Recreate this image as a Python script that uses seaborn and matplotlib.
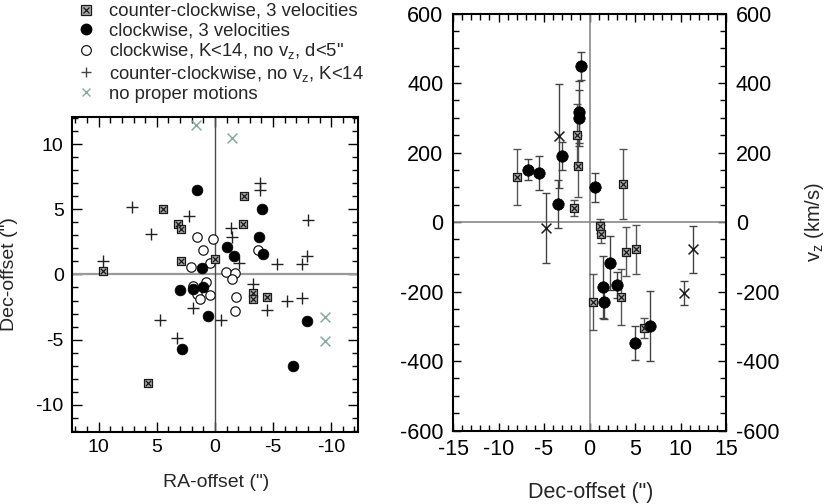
import numpy as np
import pandas as pd
import matplotlib
matplotlib.use("Agg")
import matplotlib.pyplot as plt
import seaborn as sns
from matplotlib.ticker import MultipleLocator
from matplotlib.lines import Line2D
from matplotlib.legend_handler import HandlerTuple

# ---------------- data: left panel (RA-offset, Dec-offset) ----------------
ccw3_ra = [9.6, 4.5, 3.2, 2.9, 2.9, 0.0, -2.5, -2.4, -3.3, -3.3, -4.5, 5.8]
ccw3_dec = [0.25, 5.0, 3.9, 3.5, 1.0, 1.2, 6.0, 3.85, -1.45, -1.85, -1.7, -8.3]

cw3_ra = [1.55, -4.05, -3.8, -4.1, -1.0, -1.6, 1.1, 3.0, 1.9, 1.0, 0.6, 2.85, -7.9, -6.7]
cw3_dec = [6.5, 5.0, 2.85, 1.6, 2.1, 1.4, 0.5, -1.2, -1.15, -1.0, -3.2, -5.7, -3.6, -7.0]

cwk_ra = [1.55, 0.2, 1.0, -3.7, 2.05, 0.4, -0.95, -1.7, -1.45, 1.9, 0.8, 1.55, 1.3, 0.45, -1.8, -1.7]
cwk_dec = [2.9, 2.75, 1.85, 1.85, 0.55, 0.9, 0.2, 0.15, -0.35, -0.85, -0.6, -1.5, -1.85, -1.6, -1.7, -2.8]

ccwk_ra = [9.6, 7.1, 2.2, 5.5, -1.35, -1.5, -3.9, -3.9, -8.0, -2.05, -5.35, -7.5, -7.9,
           -3.3, 1.9, -4.5, -6.2, -7.5, 4.7, -0.5, 3.3]
ccwk_dec = [1.0, 5.2, 4.5, 3.1, 3.6, 2.85, 7.0, 6.5, 4.2, 0.85, 0.8, 0.8, 1.4,
            -0.7, -2.6, -2.7, -2.0, -1.8, -3.5, -3.5, -4.9]

nopm_ra = [1.63, -1.46, -9.5, -9.5]
nopm_dec = [11.5, 10.5, -3.3, -5.1]

# ---------------- data: right panel (Dec-offset, v_z, error) ----------------
sq_dec = [-8.0, -1.65, -1.3, -1.4, 3.7, 1.1, 1.3, 4.0, 5.1, 0.35, 3.5, 5.95]
sq_vz = [129, 40, 161, 250, 109, -11, -35, -85, -79, -230, -216, -305]
sq_err = [80, 23, 90, 90, 100, 20, 25, 70, 70, 80, 80, 30]

cw_dec = [-6.8, -5.5, -3.5, -3.0, -1.1, -1.1, -0.9, 0.55, 2.2, 1.5, 1.6, 3.0, 5.05, 6.6]
cw_vz = [150, 141, 52, 190, 316, 300, 449, 100, -119, -187, -230, -181, -348, -299]
cw_err = [30, 50, 70, 40, 90, 80, 40, 42, 78, 90, 50, 38, 50, 100]

xm_dec = [-4.8, -3.3, 11.4, 10.4]
xm_vz = [-17, 248, -79, -205]
xm_err = [100, 150, 68, 35]

labels = ["counter-clockwise, 3 velocities",
          "clockwise, 3 velocities",
          "clockwise, K<14, no v$_z$, d<5\"",
          "counter-clockwise, no v$_z$, K<14",
          "no proper motions"]

# ---------------- style ----------------
sns.set_style("ticks")
plt.rcParams["font.family"] = ["Liberation Sans", "DejaVu Sans"]
plt.rcParams["mathtext.fontset"] = "custom"
plt.rcParams["mathtext.rm"] = "Liberation Sans"
plt.rcParams["mathtext.it"] = "Liberation Sans"
plt.rcParams["axes.unicode_minus"] = False

SQ_FACE = "#a9a9a9"
DARK = "#1a1a1a"
GREEN = "#86aaa4"

fig = plt.figure(figsize=(8.3, 5.04), dpi=100)
ax1 = fig.add_axes([0.0867, 0.1429, 0.3446, 0.625])
ax2 = fig.add_axes([0.5458, 0.1458, 0.3289, 0.8274])


def square_x(ax, x, y, s_sq=36, s_x=16):
    sns.scatterplot(x=x, y=y, marker="s", s=s_sq, color=SQ_FACE, edgecolor=DARK,
                    linewidth=0.9, ax=ax, zorder=4)
    sns.scatterplot(x=x, y=y, marker="x", s=s_x, color=DARK, linewidth=0.9,
                    ax=ax, zorder=5)


# ---------------- left panel ----------------
ax1.axhline(0, color="#9a9a9a", lw=1.6, zorder=1)
ax1.axvline(0, color="#4a4a4a", lw=1.0, zorder=1)

sns.scatterplot(x=cwk_ra, y=cwk_dec, marker="o", s=46, facecolor="white",
                edgecolor=DARK, linewidth=0.9, ax=ax1, zorder=3)
sns.scatterplot(x=ccwk_ra, y=ccwk_dec, marker="+", s=70, color="#222222",
                linewidth=1.0, ax=ax1, zorder=3)
sns.scatterplot(x=nopm_ra, y=nopm_dec, marker="x", s=50, color=GREEN,
                linewidth=1.1, ax=ax1, zorder=3)
square_x(ax1, ccw3_ra, ccw3_dec)
sns.scatterplot(x=cw3_ra, y=cw3_dec, marker="o", s=60, color="black",
                edgecolor="black", linewidth=0.5, ax=ax1, zorder=4)

ax1.set_xlim(12.3, -12.3)
ax1.set_ylim(-12.1, 12.1)
ax1.xaxis.set_major_locator(MultipleLocator(5))
ax1.xaxis.set_minor_locator(MultipleLocator(1))
ax1.yaxis.set_major_locator(MultipleLocator(5))
ax1.yaxis.set_minor_locator(MultipleLocator(1))
ax1.tick_params(which="both", direction="in", top=True, right=True, width=1.0,
                colors="black", labelsize=14)
ax1.tick_params(which="major", length=7, pad=5)
ax1.tick_params(which="minor", length=4)
ax1.tick_params(axis="y", pad=6)
ax1.set_xlabel("RA-offset (\")", fontsize=14)
ax1.set_ylabel("Dec-offset (\")", fontsize=14)
ax1.xaxis.set_label_coords(0.503, -0.132)
ax1.yaxis.set_label_coords(-0.19, 0.5)
for sp in ax1.spines.values():
    sp.set_linewidth(1.5)
    sp.set_color("black")

# legend
h_sq = (Line2D([], [], ls="none", marker="s", ms=6.5, mfc=SQ_FACE, mec=DARK, mew=0.9),
        Line2D([], [], ls="none", marker="x", ms=4, color=DARK, mew=0.9))
handles = [
    h_sq,
    Line2D([], [], ls="none", marker="o", ms=7.5, mfc="black", mec="black"),
    Line2D([], [], ls="none", marker="o", ms=7, mfc="white", mec=DARK, mew=0.9),
    Line2D([], [], ls="none", marker="+", ms=7, color="#444444", mew=1.0),
    Line2D([], [], ls="none", marker="x", ms=6, color=GREEN, mew=1.0),
]
leg = ax1.legend(handles=handles, labels=labels, loc="upper left",
                 bbox_to_anchor=(77 / 830, 1 - 3 / 504), bbox_transform=fig.transFigure,
                 frameon=False, fontsize=13.3, handlelength=1.0, handletextpad=0.75,
                 borderpad=0.0, borderaxespad=0.0, labelspacing=0.12,
                 handler_map={tuple: HandlerTuple(ndivide=1, pad=0)})

# ---------------- right panel ----------------
ax2.axhline(0, color="#8a8a8a", lw=1.2, zorder=1)
ax2.axvline(0, color="#8a8a8a", lw=1.2, zorder=1)

ax2.errorbar(sq_dec, sq_vz, yerr=sq_err, fmt="none", ecolor="#555555",
             elinewidth=1.0, capsize=3, capthick=1.0, zorder=2)
ax2.errorbar(cw_dec, cw_vz, yerr=cw_err, fmt="none", ecolor="#444444",
             elinewidth=1.0, capsize=3, capthick=1.0, zorder=2)
ax2.errorbar(xm_dec, xm_vz, yerr=xm_err, fmt="none", ecolor="#444444",
             elinewidth=1.0, capsize=3, capthick=1.0, zorder=2)

square_x(ax2, sq_dec, sq_vz, s_sq=40, s_x=18)
sns.scatterplot(x=cw_dec, y=cw_vz, marker="o", s=68, color="black",
                edgecolor="black", linewidth=0.5, ax=ax2, zorder=4)
sns.scatterplot(x=xm_dec, y=xm_vz, marker="x", s=50, color=DARK,
                linewidth=1.1, ax=ax2, zorder=4)

ax2.set_xlim(-15, 15)
ax2.set_ylim(-600, 600)
ax2.xaxis.set_major_locator(MultipleLocator(5))
ax2.xaxis.set_minor_locator(MultipleLocator(1))
ax2.yaxis.set_major_locator(MultipleLocator(200))
ax2.yaxis.set_minor_locator(MultipleLocator(50))
ax2.tick_params(which="both", direction="in", top=True, right=True,
                labelright=True, width=1.0, colors="black", labelsize=15.5)
ax2.tick_params(which="major", length=6, pad=6)
ax2.tick_params(which="minor", length=4)
ax2.tick_params(axis="y", which="major", pad=7)
ax2.set_xlabel("Dec-offset (\")", fontsize=15.5)
ax2.xaxis.set_label_coords(0.505, -0.123)
ax2.yaxis.set_label_position("right")
ax2.set_ylabel("v$_z$ (km/s)", fontsize=14.5)
ax2.yaxis.set_label_coords(1.282, 0.5)
for sp in ax2.spines.values():
    sp.set_linewidth(1.5)
    sp.set_color("black")

fig.savefig("out.png", dpi=100)
